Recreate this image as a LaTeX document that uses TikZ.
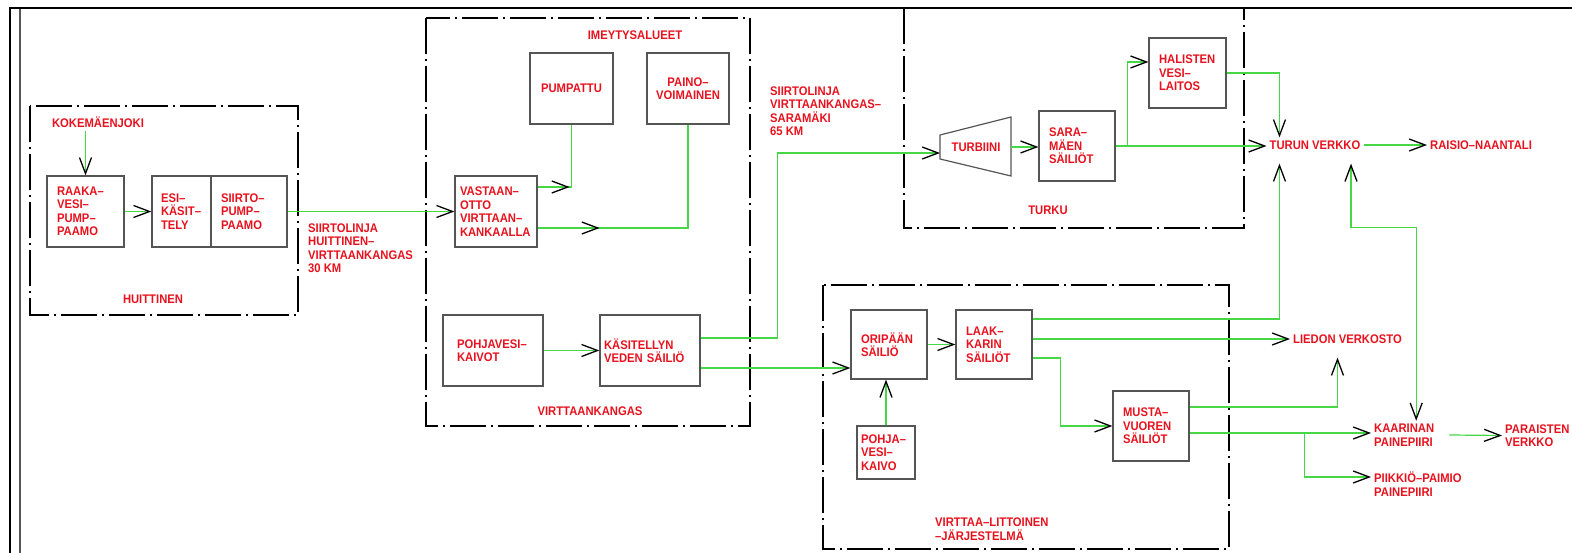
\documentclass[tikz,border=0pt]{standalone}
\usepackage{fontspec}
\newfontfamily\cadfont{Liberation Sans}[FakeStretch=0.9]
\usepackage{tikz}
\usetikzlibrary{arrows.meta, calc, decorations.markings}
\definecolor{pipegreen}{RGB}{70,215,70}
\definecolor{labelred}{RGB}{232,18,30}
\definecolor{boxgrey}{RGB}{85,85,85}
\newcommand{\cadtext}{\cadfont\bfseries\fontsize{12.5}{13.5}\selectfont}

\begin{document}
\begin{tikzpicture}[
	x=1pt, y=-1pt,
	tank/.style={rectangle, draw=boxgrey, line width=1.2pt, text=labelred, font=\cadtext, align=left, inner xsep=10pt, inner ysep=0pt},
	tag/.style={text=labelred, font=\cadtext, align=left, inner sep=3pt},
	zone/.style={draw=black, line width=1.4pt, dash pattern=on 36pt off 5pt on 2pt off 5pt},
	pipe/.style={draw=pipegreen, line width=1.2pt},
	flow/.style={pipe, -{Straight Barb[length=16pt, width=12pt, color=black, line width=1.3pt]}},
	both/.style={pipe, {Straight Barb[length=16pt, width=12pt, color=black, line width=1.3pt]}-{Straight Barb[length=16pt, width=12pt, color=black, line width=1.3pt]}},
	midflow/.style={pipe, postaction={decorate, decoration={markings, mark=at position #1 with {\arrow{Straight Barb[length=16pt, width=12pt, color=black, line width=1.3pt]}}}}}
]
\useasboundingbox (0,0) rectangle (1572,553);

% Drawing frame
\draw[line width=2.6pt] (10,553) -- (10,8) -- (1572,8);
\draw[boxgrey, line width=1.6pt] (20,9) -- (20,553);

% Areas
\draw[zone] (30,106) rectangle (298,315);
\draw[zone] (426,18) rectangle (750,426);
\draw[zone] (904,8) -- (904,228) -- (1244,228) -- (1244,8);
\draw[zone] (823,285) rectangle (1229,549);

% Huittinen
\node[tag] (kokem) at (98,122) {KOKEMÄENJOKI};
\node[tank, text width=57pt, minimum height=71pt] (raaka) at (85.5,211.5) {RAAKA–\\VESI–\\PUMP–\\PAAMO};
\node[tank, inner xsep=9pt, text width=41pt, minimum height=71pt] (esi) at (181.5,211.5) {ESI–\\KÄSIT–\\TELY};
\node[tank, text width=56pt, minimum height=71pt] (siirto) at (249,211.5) {SIIRTO–\\PUMP–\\PAAMO};
\node[tag] (huitlbl) at (153,299) {HUITTINEN};
\node[tag, anchor=west] (line1) at (305,248) {SIIRTOLINJA\\HUITTINEN–\\VIRTTAANKANGAS\\30 KM};

% Virttaankangas
\node[tag] (imey) at (635,35) {IMEYTYSALUEET};
\node[tank, align=center, text width=63pt, minimum height=71pt] (pump) at (571.5,88.5) {PUMPATTU};
\node[tank, align=center, inner xsep=8pt, text width=66pt, minimum height=71pt] (paino) at (688,88.5) {PAINO–\\VOIMAINEN};
\node[tank, inner xsep=5pt, text width=72pt, minimum height=71pt] (vo) at (496,211.5) {VASTAAN–\\OTTO\\VIRTTAAN–\\KANKAALLA};
\node[tank, inner xsep=14pt, text width=72pt, minimum height=71pt] (pohjav) at (493,350.5) {POHJAVESI–\\KAIVOT};
\node[tank, inner xsep=4pt, text width=92pt, minimum height=71pt] (kas) at (650,350.5) {KÄSITELLYN\\VEDEN SÄILIÖ};
\node[tag] (virtlbl) at (590,411) {VIRTTAANKANGAS};
\node[tag, anchor=west] (line2) at (767,111) {SIIRTOLINJA\\VIRTTAANKANGAS–\\SARAMÄKI\\65 KM};

% Turku
\draw[boxgrey, line width=1.2pt] (940,135) -- (1011,117) -- (1011,176) -- (940,159) -- cycle;
\coordinate (turb-in) at (940,153);
\coordinate (turb-out) at (1011,147);
\node[tag] (turb) at (976,147) {TURBIINI};
\node[tank, text width=56pt, minimum height=70pt] (sara) at (1077,146) {SARA–\\MÄEN\\SÄILIÖT};
\node[tank, text width=57pt, minimum height=70pt] (hal) at (1187.5,73) {HALISTEN\\VESI–\\LAITOS};
\node[tag] (turku) at (1048,210) {TURKU};
\node[tag] (turun) at (1315,145) {TURUN VERKKO};
\node[tag, anchor=west] (raisio) at (1427,145) {RAISIO–NAANTALI};

% Virttaa-Littoinen
\node[tank, text width=56pt, minimum height=69pt] (ori) at (889,344.5) {ORIPÄÄN\\SÄILIÖ};
\node[tank, inner xsep=4pt, text width=50pt, minimum height=53pt] (pkaivo) at (886,452.5) {POHJA–\\VESI–\\KAIVO};
\node[tank, text width=56pt, minimum height=69pt] (laak) at (994,344.5) {LAAK–\\KARIN\\SÄILIÖT};
\node[tank, text width=56pt, minimum height=70pt] (musta) at (1151,426) {MUSTA–\\VUOREN\\SÄILIÖT};
\node[tag, anchor=west] (vlbl) at (932,529) {VIRTTAA–LITTOINEN\\–JÄRJESTELMÄ};
\node[tag, anchor=west] (liedon) at (1290,339) {LIEDON VERKOSTO};
\node[tag, anchor=west] (kaar) at (1371,435) {KAARINAN\\PAINEPIIRI};
\node[tag, anchor=west] (par) at (1502,435.5) {PARAISTEN\\VERKKO};
\node[tag, anchor=west] (piik) at (1371,484) {PIIKKIÖ–PAIMIO\\PAINEPIIRI};

% Pipes
\draw[flow] (kokem.south -| raaka) -- (raaka.north);
\draw[flow] (raaka) -- (esi);
\draw[flow] (siirto) -- (vo);
\draw[midflow=32pt] ([yshift=24.5pt]vo.east) -| (pump.south);
\draw[midflow=62pt] ([yshift=-16.5pt]vo.east) -| (paino.south);
\draw[flow] (pohjav) -- (kas);
\draw[flow] ([yshift=12.5pt]kas.east) -- ++(77,0) |- (turb-in);
\draw[flow] ([yshift=-17.5pt]kas.east) coordinate (kas-out) -- (kas-out -| ori.west);

\draw[flow] (turb-out) -- (sara.west |- turb-out);
\draw[flow] (sara.east) -- (sara.east -| turun.west);
\draw[flow] (sara.east) ++(12,0) |- ([yshift=11pt]hal.west);
\draw[flow] (hal.east) -| ([xshift=13pt]turun.north west);
\draw[flow] (turun.east) -- (raisio.west);

\draw[flow] (pkaivo.north) -- (pkaivo.north |- ori.south);
\draw[flow] (ori) -- (laak);
\draw[flow] ([yshift=25.5pt]laak.east) -| ([xshift=13pt, yshift=-11pt]turun.south west);
\draw[flow] ([yshift=5.5pt]laak.east) coordinate (laak-out) -- (laak-out -| liedon.west);
\draw[flow] ([yshift=-13.5pt]laak.east) -- ++(28,0) |- (musta.west);
\draw[flow] ([yshift=19pt]musta.east) -| ([xshift=-10pt, yshift=-11pt]liedon.south);
\draw[flow] ([yshift=-7pt]musta.east) coordinate (musta-out) -- (musta-out -| kaar.west);
\draw[flow] (musta-out) ++(115,0) |- ([yshift=7pt]piik.west);
\draw[both] ([xshift=36pt, yshift=-11pt]turun.south) -- ++(0,64) -| ([xshift=12pt]kaar.north);
\draw[flow] ([xshift=12pt]kaar.east) -- (par.west);
\end{tikzpicture}
\end{document}
